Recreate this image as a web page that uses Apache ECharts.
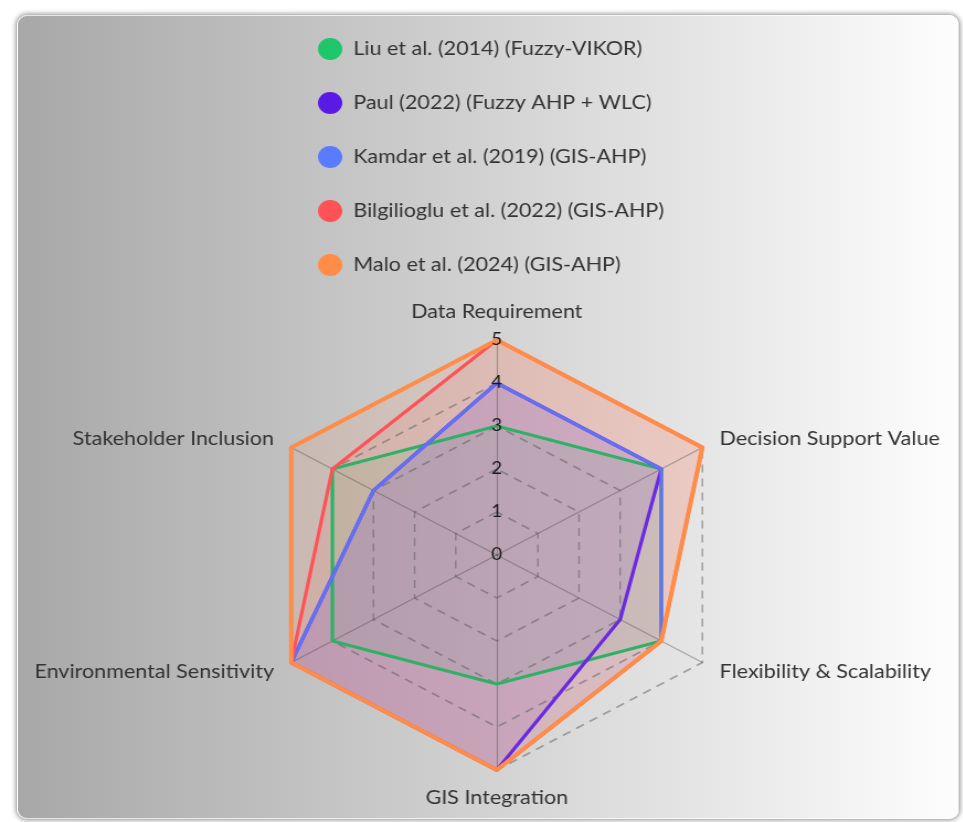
<!DOCTYPE html>
<html>
<head>
<meta charset="utf-8">
<script src="https://cdn.jsdelivr.net/npm/echarts@6/dist/echarts.min.js"></script>
<style>
  html, body { margin: 0; padding: 0; background: #ffffff; width: 963px; height: 822px; overflow: hidden; }
  #card {
    position: absolute; left: 17px; top: 15px; width: 940px; height: 802px;
    border-radius: 10px;
    background: linear-gradient(to right, #a8a8a8 0%, #d2d2d2 50%, #fdfdfd 100%);
    border: 1px solid rgba(255,255,255,0.7);
    box-shadow: 0 0 5px 1px rgba(0,0,0,0.45);
  }
  #chart {
    position: absolute; left: 0; top: 0; width: 872px; height: 822px;
    transform: scaleX(1.104); transform-origin: 0 0;
  }
</style>
</head>
<body>
<div id="card"></div>
<div id="chart"></div>
<script>
// Indicators listed counter-clockwise starting from the top
const categories = ['Data Requirement', 'Stakeholder Inclusion', 'Environmental Sensitivity', 'GIS Integration', 'Flexibility & Scalability', 'Decision Support Value'];
const maxValue = 5;
const tickLabels = ['0', '1', '2', '3', '4', '5'];

const seriesNames = [
  'Liu et al. (2014) (Fuzzy-VIKOR)',
  'Paul (2022) (Fuzzy AHP + WLC)',
  'Kamdar et al. (2019) (GIS-AHP)',
  'Bilgilioglu et al. (2022) (GIS-AHP)',
  'Malo et al. (2024) (GIS-AHP)'
];
const liuValues = [3, 4, 4, 3, 4, 4];
const paulValues = [4, 3, 5, 5, 3, 4];
const kamdarValues = [4, 3, 5, 5, 4, 4];
const bilgiliogluValues = [5, 4, 5, 5, 4, 5];
const maloValues = [5, 5, 5, 5, 4, 5];
const seriesColors = ['#1fc66a', '#5a1ae6', '#5b7bff', '#ff5257', '#ff8c48'];
const lineColors = ['#30b066', '#6a2ae0', '#6470f2', '#ff5257', '#ff8c48'];

const allValues = [liuValues, paulValues, kamdarValues, bilgiliogluValues, maloValues];
const font = 'Lato, "Open Sans", sans-serif';

const baseRadar = {
  center: [450, 555],
  radius: 215,
  startAngle: 90,
  shape: 'polygon',
  splitNumber: 5
};

const chart = echarts.init(document.getElementById('chart'), null, { renderer: 'canvas' });
chart.setOption({
  backgroundColor: 'transparent',
  color: seriesColors,
  legend: {
    orient: 'vertical',
    left: 283,
    top: 33,
    icon: 'circle',
    itemWidth: 32,
    itemHeight: 22,
    itemGap: 32,
    data: seriesNames.map((n, i) => ({ name: n, itemStyle: { color: seriesColors[i] } })),
    textStyle: { color: '#333', fontSize: 19.5, fontFamily: font }
  },
  radar: [
    Object.assign({}, baseRadar, {
      z: 3,
      nameGap: 18,
      axisName: { color: '#333', fontSize: 19.5, fontFamily: font },
      axisLine: { show: true, lineStyle: { color: 'rgba(70,70,70,0.4)', width: 1.2 } },
      splitLine: { show: true, lineStyle: { color: 'rgba(90,90,90,0.5)', width: 1.5, type: [8, 6] } },
      splitArea: { show: false },
      axisTick: { show: false },
      axisLabel: { show: false },
      indicator: categories.map((name) => ({ name: name, min: 0, max: maxValue }))
    }),
    Object.assign({}, baseRadar, {
      z: 6,
      axisName: { show: false },
      axisLine: { show: false },
      splitLine: { show: false },
      splitArea: { show: false },
      axisTick: { show: false },
      axisLabel: { show: false },
      indicator: categories.map((name, i) => {
        const ind = { name: '', min: 0, max: maxValue };
        if (i === 0) {
          ind.axisLabel = {
            show: true, margin: 0, align: 'center', verticalAlign: 'middle',
            color: '#1a1a1a', fontSize: 17, fontFamily: font,
            formatter: (v) => tickLabels[Math.round(v)]
          };
        }
        return ind;
      })
    })
  ],
  series: [{
    type: 'radar',
    radarIndex: 0,
    z: 2,
    symbol: 'none',
    silent: true,
    data: allValues.map((vals, i) => ({
      name: seriesNames[i],
      value: vals,
      lineStyle: { width: 0, opacity: 0 },
      itemStyle: { color: seriesColors[i] },
      areaStyle: { color: seriesColors[i], opacity: 0.12 }
    }))
  }, {
    type: 'radar',
    radarIndex: 0,
    z: 4,
    symbol: 'none',
    data: allValues.map((vals, i) => ({
      name: seriesNames[i],
      value: vals,
      lineStyle: { color: lineColors[i], width: i === 4 ? 4 : 3.2 },
      itemStyle: { color: seriesColors[i] }
    }))
  }]
});
</script>
</body>
</html>
